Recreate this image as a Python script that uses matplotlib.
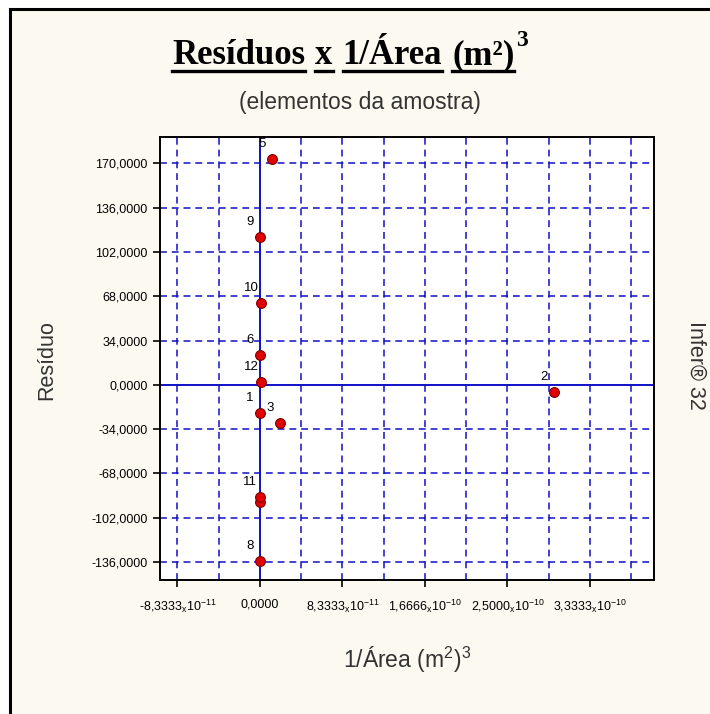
import matplotlib
matplotlib.use("Agg")
import matplotlib.pyplot as plt
from matplotlib.patches import Rectangle
from matplotlib.lines import Line2D
import numpy as np

# data
labels = ["1", "2", "3", "", "5", "6", "8", "9", "10", "11", "12"]
x_vals = [0.0, 2.97e-10, 2.0e-11, 0.0, 1.2e-11, 0.0, 0.0, 0.0, 1.0e-12, 0.0, 1.5e-12]
residuos = [-21.7, -5.4, -29.4, -90.3, 173.5, 23.0, -135.0, 113.6, 63.0, -85.7, 2.1]

y_ticks = [-136, -102, -68, -34, 0, 34, 68, 102, 136, 170]
x_ticks = [-8.3333e-11, 0.0, 8.3333e-11, 1.6666e-10, 2.5e-10, 3.3333e-10]
x_tick_labels = [
    r"-8,3333$_{\mathregular{x}}$10$^{\mathregular{-11}}$",
    "0,0000",
    r"8,3333$_{\mathregular{x}}$10$^{\mathregular{-11}}$",
    r"1,6666$_{\mathregular{x}}$10$^{\mathregular{-10}}$",
    r"2,5000$_{\mathregular{x}}$10$^{\mathregular{-10}}$",
    r"3,3333$_{\mathregular{x}}$10$^{\mathregular{-10}}$",
]
x_grid_step = 4.16665e-11

W, H = 710, 714
plt.rcParams["font.family"] = ["Liberation Sans", "DejaVu Sans"]
plt.rcParams["mathtext.fontset"] = "custom"
plt.rcParams["mathtext.rm"] = "Liberation Sans"

fig = plt.figure(figsize=(W / 100, H / 100), dpi=100, facecolor="white")

# cream panel with black frame on top/left
cream = "#FCFAF0"
fig.patches.append(Rectangle((9.5 / W, -0.1), 1.2, 1 - 9.5 / H + 0.1, transform=fig.transFigure,
                             facecolor=cream, edgecolor="black", lw=2.2, zorder=-5))

ax = fig.add_axes([160 / W, 1 - 580 / H, 494 / W, 443 / H])
ax.set_zorder(2)
ax.set_facecolor("white")
ax.set_xlim(-1.01e-10, 3.98e-10)
ax.set_ylim(-149.8, 190.3)

blue = "#1010C8"
dash = (0, (4.5, 3.2))
for gx in np.arange(-2, 10) * x_grid_step:
    if abs(gx) < 1e-15:
        continue
    ax.axvline(gx, color=blue, lw=1.1, ls=dash, zorder=1)
for gy in y_ticks:
    if gy == 0:
        continue
    ax.axhline(gy, color=blue, lw=1.1, ls=dash, zorder=1)
ax.axvline(0, color=blue, lw=1.4, zorder=2)
ax.axhline(0, color=blue, lw=1.4, zorder=2)

ax.scatter(x_vals, residuos, s=50, color="#E00000", edgecolors="#800000", linewidths=0.8, zorder=4)
for lab, xv, yv in zip(labels, x_vals, residuos):
    if lab:
        ax.annotate(lab, (xv, yv), xytext=(-10, 15), textcoords="offset pixels",
                    ha="center", va="center", fontsize=9.5, color="black", zorder=5)

ax.set_yticks(y_ticks)
ax.set_yticklabels([f"{v:.4f}".replace(".", ",") for v in y_ticks], fontsize=9)
ax.set_xticks(x_ticks)
ax.set_xticklabels(x_tick_labels, fontsize=9)
ax.tick_params(direction="out", length=5, width=1.2, colors="black", pad=4)
ax.tick_params(axis="x", pad=8)
for s in ax.spines.values():
    s.set_linewidth(1.4)
    s.set_color("black")

# titles
fig.canvas.draw()
renderer = fig.canvas.get_renderer()
title_parts = ["Resíduos", "x", "1/Área", "(m²)"]
base_y = 1 - 64 / H
x_px = 172
for part in title_parts:
    t = fig.text(x_px / W, base_y, part, fontsize=25, fontweight="bold",
                 family=["Liberation Serif", "DejaVu Serif"], va="baseline", ha="left")
    bb = t.get_window_extent(renderer)
    fig.lines.append(Line2D([bb.x0 / W, bb.x1 / W], [base_y - 7 / H, base_y - 7 / H],
                            transform=fig.transFigure, color="black", lw=2.4))
    x_px = bb.x1 + 10
fig.text((x_px - 8) / W, 1 - 46 / H, "3", fontsize=17, fontweight="bold",
         family=["Liberation Serif", "DejaVu Serif"], va="baseline", ha="left")

fig.text(360 / W, 1 - 103 / H, "(elementos da amostra)", fontsize=16.5, color="#333333",
         ha="center", va="center")
fig.text(47 / W, 1 - 360 / H, "Resíduo", fontsize=15.5, color="#333333",
         ha="center", va="center", rotation=90)
fig.text(407 / W, 1 - 660 / H, r"1/Área (m$^{\mathregular{2}}$)$^{\mathregular{3}}$", fontsize=16.5,
         color="#333333", ha="center", va="center")
fig.text(696 / W, 1 - 365 / H, "Infer® 32", fontsize=15.5, color="#333333",
         ha="center", va="center", rotation=270)

fig.savefig("out.png", dpi=100, facecolor="white")
